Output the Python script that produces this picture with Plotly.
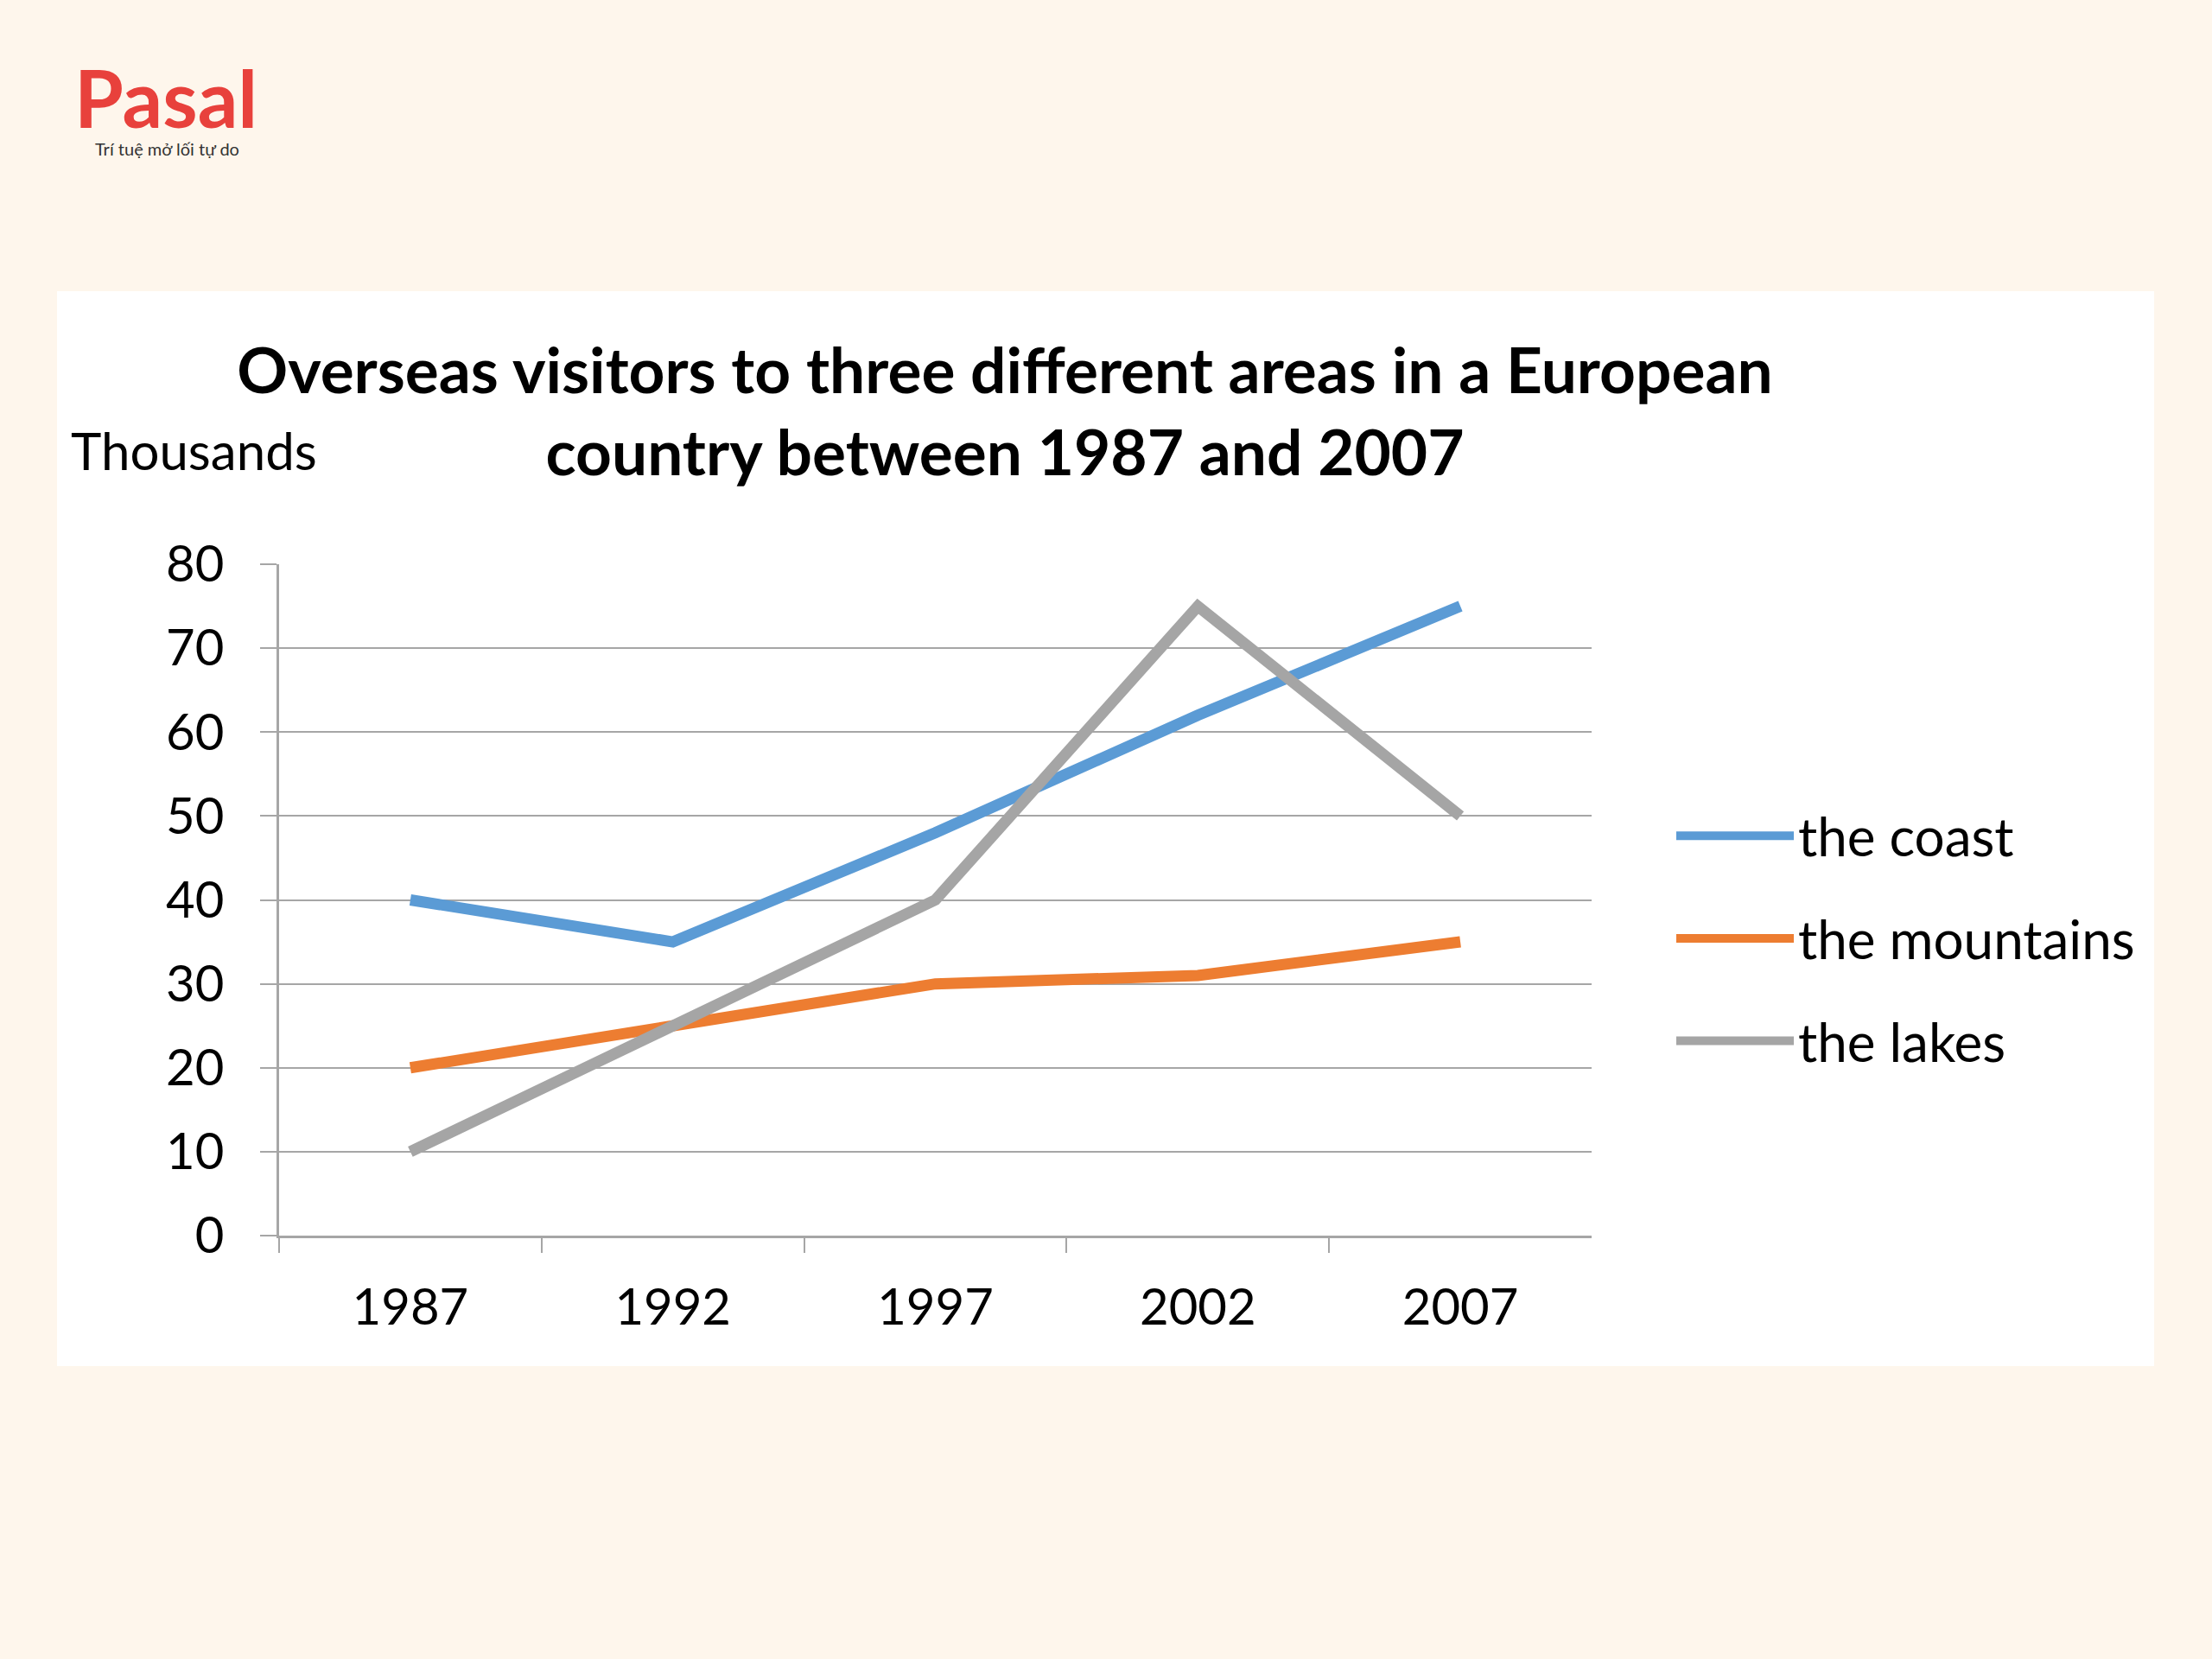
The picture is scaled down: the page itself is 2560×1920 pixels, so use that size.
import plotly.graph_objects as go

years = ["1987", "1992", "1997", "2002", "2007"]
coast = [40, 35, 48, 62, 75]
mountains = [20, 25, 30, 31, 35]
lakes = [10, 25, 40, 75, 50]
series_names = ["the coast", "the mountains", "the lakes"]
colors = ["#5B9BD5", "#ED7D31", "#A5A5A5"]
y_ticks = [0, 10, 20, 30, 40, 50, 60, 70, 80]

W, H = 2560, 1920
def px(x):
    return x / W
def py(y):
    return 1 - y / H

fig = go.Figure()
for name, vals, col in zip(series_names, [coast, mountains, lakes], colors):
    fig.add_trace(go.Scatter(
        x=years, y=vals, mode="lines", name=name, legendgroup=name,
        line=dict(color=col, width=13), cliponaxis=False,
    ))

grid_col = "#A6A6A6"
fig.update_layout(
    template="none",
    width=W, height=H, autosize=False,
    margin=dict(l=0, r=0, t=0, b=0, pad=0, autoexpand=False),
    paper_bgcolor="#FEF6EC",
    plot_bgcolor="#FFFFFF",
    font=dict(family="Lato, 'Open Sans', sans-serif", color="#111111"),
    title=dict(
        text="<b>Overseas visitors to three different areas in a European<br>country between 1987 and 2007</b>",
        x=px(1163), xanchor="center", y=py(455), yanchor="top",
        font=dict(size=73, family="Lato, sans-serif", color="#000000"),
    ),
    xaxis=dict(
        domain=[px(323), px(1842)], automargin=False,
        type="category", range=[-0.5, 4.5],
        showgrid=False, showline=True, linecolor=grid_col, linewidth=3,
        ticks="outside", tickson="boundaries", ticklen=17, tickcolor=grid_col, tickwidth=2,
        tickfont=dict(size=58, family="Lato, sans-serif", color="#000000"),
        ticklabelstandoff=30,
        zeroline=False,
    ),
    yaxis=dict(
        domain=[py(1430), py(653)], automargin=False,
        range=[0, 80], tickvals=y_ticks, ticktext=[str(v) for v in y_ticks],
        showgrid=True, gridcolor=grid_col, gridwidth=2,
        showline=True, linecolor=grid_col, linewidth=3,
        ticks="outside", ticklen=19, tickcolor=grid_col, tickwidth=2,
        tickfont=dict(size=58, family="Lato, sans-serif", color="#000000"),
        ticklabelstandoff=30,
        zeroline=False,
    ),
    legend=dict(
        x=px(1935), xanchor="left", y=py(1086), yanchor="middle",
        bgcolor="rgba(0,0,0,0)", borderwidth=0,
        font=dict(size=62, family="Lato, sans-serif", color="#000000"),
        itemwidth=136, tracegroupgap=35,
    ),
    showlegend=True,
    shapes=[dict(
        type="rect", xref="paper", yref="paper", layer="below",
        x0=px(66), x1=px(2493), y0=py(1581), y1=py(337),
        fillcolor="#FFFFFF", line=dict(width=0),
    )],
    annotations=[
        dict(text="Thousands", xref="paper", yref="paper", x=px(80), y=py(521),
             xanchor="left", yanchor="middle", showarrow=False,
             font=dict(size=60, family="Lato, sans-serif", color="#000000")),
        dict(text="<b>Pasal</b>", xref="paper", yref="paper", x=px(84), y=py(112),
             xanchor="left", yanchor="middle", showarrow=False,
             font=dict(size=92, family="Lato, sans-serif", color="#E8413C")),
        dict(text="Trí tuệ mở lối tự do", xref="paper", yref="paper", x=px(108), y=py(172),
             xanchor="left", yanchor="middle", showarrow=False,
             font=dict(size=20, family="Lato, sans-serif", color="#333333")),
    ],
)

fig.write_html(
    "out.html",
    config={"displayModeBar": False},
    post_script="document.body.style.margin='0';document.body.style.background='#FEF6EC';",
)
